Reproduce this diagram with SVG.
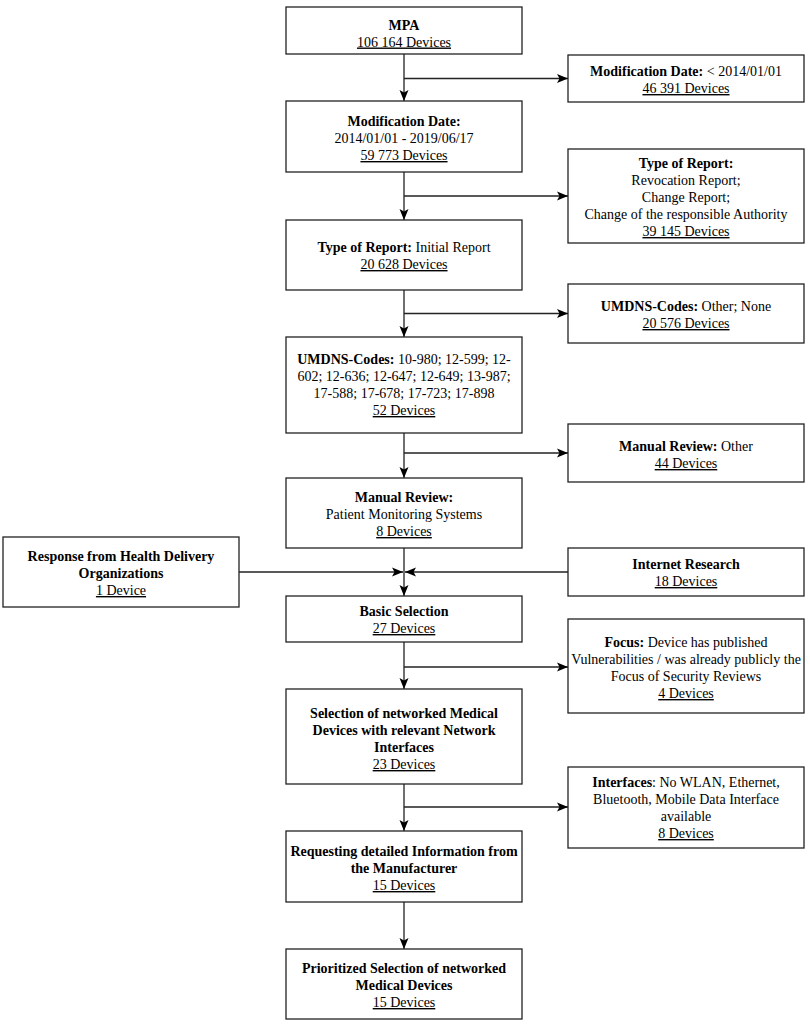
<svg xmlns="http://www.w3.org/2000/svg" width="810" height="1024" viewBox="0 0 810 1024">
<style>
rect.box{fill:#fff;stroke:#222;stroke-width:1.3}
text{font-family:"Liberation Serif","Times New Roman",serif;font-size:14px;fill:#000;text-anchor:middle}
.b{font-weight:bold}
.u{text-decoration:underline}
.c line{stroke:#222;stroke-width:1.3}
</style>
<defs>
<marker id="ah" markerUnits="userSpaceOnUse" markerWidth="12" markerHeight="10" viewBox="0 0 12 10" refX="11" refY="5" orient="auto">
<path d="M0,0.5 L11,5 L0,9.5 L2.5,5 Z" fill="#000"/>
</marker>
</defs>
<rect width="810" height="1024" fill="#fff"/>
<g id="connectors" class="c">
<line x1="404" y1="54" x2="404" y2="101" marker-end="url(#ah)"/>
<line x1="404" y1="78.5" x2="568" y2="78.5" marker-end="url(#ah)"/>
<line x1="404" y1="172" x2="404" y2="220" marker-end="url(#ah)"/>
<line x1="404" y1="196" x2="568" y2="196" marker-end="url(#ah)"/>
<line x1="404" y1="290" x2="404" y2="337" marker-end="url(#ah)"/>
<line x1="404" y1="313.5" x2="568" y2="313.5" marker-end="url(#ah)"/>
<line x1="404" y1="433" x2="404" y2="478" marker-end="url(#ah)"/>
<line x1="404" y1="453" x2="568" y2="453" marker-end="url(#ah)"/>
<line x1="404" y1="548" x2="404" y2="596" marker-end="url(#ah)"/>
<line x1="239" y1="572" x2="403" y2="572" marker-end="url(#ah)"/>
<line x1="568" y1="572" x2="405" y2="572" marker-end="url(#ah)"/>
<line x1="404" y1="642" x2="404" y2="689" marker-end="url(#ah)"/>
<line x1="404" y1="667" x2="568" y2="667" marker-end="url(#ah)"/>
<line x1="404" y1="784" x2="404" y2="831" marker-end="url(#ah)"/>
<line x1="404" y1="807" x2="568" y2="807" marker-end="url(#ah)"/>
<line x1="404" y1="902" x2="404" y2="949" marker-end="url(#ah)"/>
</g>
<g id="mpa">
<rect class="box" x="286" y="7" width="236" height="47"/>
<text x="404" y="29.5" class="b">MPA</text>
<text x="404" y="46.5" class="u">106 164 Devices</text>
</g>
<g id="moddate-old">
<rect class="box" x="568" y="55" width="236" height="47"/>
<text x="686" y="76"><tspan class="b">Modification Date:</tspan> &lt; 2014/01/01</text>
<text x="686" y="93" class="u">46 391 Devices</text>
</g>
<g id="moddate">
<rect class="box" x="286" y="101" width="236" height="71"/>
<text x="404" y="126" class="b">Modification Date:</text>
<text x="404" y="143">2014/01/01 - 2019/06/17</text>
<text x="404" y="160" class="u">59 773 Devices</text>
</g>
<g id="report-other">
<rect class="box" x="568" y="149" width="236" height="94"/>
<text x="686" y="168" class="b">Type of Report:</text>
<text x="686" y="185">Revocation Report;</text>
<text x="686" y="202">Change Report;</text>
<text x="686" y="219">Change of the responsible Authority</text>
<text x="686" y="236" class="u">39 145 Devices</text>
</g>
<g id="report-initial">
<rect class="box" x="286" y="220" width="236" height="70"/>
<text x="404" y="252"><tspan class="b">Type of Report:</tspan> Initial Report</text>
<text x="404" y="269" class="u">20 628 Devices</text>
</g>
<g id="umdns-other">
<rect class="box" x="568" y="284" width="236" height="59"/>
<text x="686" y="311"><tspan class="b">UMDNS-Codes:</tspan> Other; None</text>
<text x="686" y="328" class="u">20 576 Devices</text>
</g>
<g id="umdns">
<rect class="box" x="286" y="337" width="236" height="96"/>
<text x="404" y="364"><tspan class="b">UMDNS-Codes:</tspan> 10-980; 12-599; 12-</text>
<text x="404" y="381">602; 12-636; 12-647; 12-649; 13-987;</text>
<text x="404" y="398">17-588; 17-678; 17-723; 17-898</text>
<text x="404" y="415" class="u">52 Devices</text>
</g>
<g id="review-other">
<rect class="box" x="568" y="424" width="236" height="58"/>
<text x="686" y="451"><tspan class="b">Manual Review:</tspan> Other</text>
<text x="686" y="468" class="u">44 Devices</text>
</g>
<g id="review">
<rect class="box" x="286" y="478" width="236" height="70"/>
<text x="404" y="502" class="b">Manual Review:</text>
<text x="404" y="519">Patient Monitoring Systems</text>
<text x="404" y="536" class="u">8 Devices</text>
</g>
<g id="hdo">
<rect class="box" x="3" y="537" width="236" height="70"/>
<text x="121" y="561" class="b">Response from Health Delivery</text>
<text x="121" y="578" class="b">Organizations</text>
<text x="121" y="595" class="u">1 Device</text>
</g>
<g id="internet">
<rect class="box" x="568" y="548" width="236" height="48"/>
<text x="686" y="569" class="b">Internet Research</text>
<text x="686" y="586" class="u">18 Devices</text>
</g>
<g id="basic">
<rect class="box" x="286" y="596" width="236" height="46"/>
<text x="404" y="616" class="b">Basic Selection</text>
<text x="404" y="633" class="u">27 Devices</text>
</g>
<g id="focus">
<rect class="box" x="568" y="619" width="236" height="94"/>
<text x="686" y="647"><tspan class="b">Focus:</tspan> Device has published</text>
<text x="686" y="664">Vulnerabilities / was already publicly the</text>
<text x="686" y="681">Focus of Security Reviews</text>
<text x="686" y="698" class="u">4 Devices</text>
</g>
<g id="networked">
<rect class="box" x="286" y="689" width="236" height="95"/>
<text x="404" y="718" class="b">Selection of networked Medical</text>
<text x="404" y="735" class="b">Devices with relevant Network</text>
<text x="404" y="752" class="b">Interfaces</text>
<text x="404" y="769" class="u">23 Devices</text>
</g>
<g id="interfaces">
<rect class="box" x="568" y="767" width="236" height="81"/>
<text x="686" y="787"><tspan class="b">Interfaces</tspan>: No WLAN, Ethernet,</text>
<text x="686" y="804">Bluetooth, Mobile Data Interface</text>
<text x="686" y="821">available</text>
<text x="686" y="838" class="u">8 Devices</text>
</g>
<g id="manufacturer">
<rect class="box" x="286" y="831" width="236" height="71"/>
<text x="404" y="856" class="b">Requesting detailed Information from</text>
<text x="404" y="873" class="b">the Manufacturer</text>
<text x="404" y="890" class="u">15 Devices</text>
</g>
<g id="prioritized">
<rect class="box" x="286" y="949" width="236" height="70"/>
<text x="404" y="973" class="b">Prioritized Selection of networked</text>
<text x="404" y="990" class="b">Medical Devices</text>
<text x="404" y="1007" class="u">15 Devices</text>
</g>
</svg>
